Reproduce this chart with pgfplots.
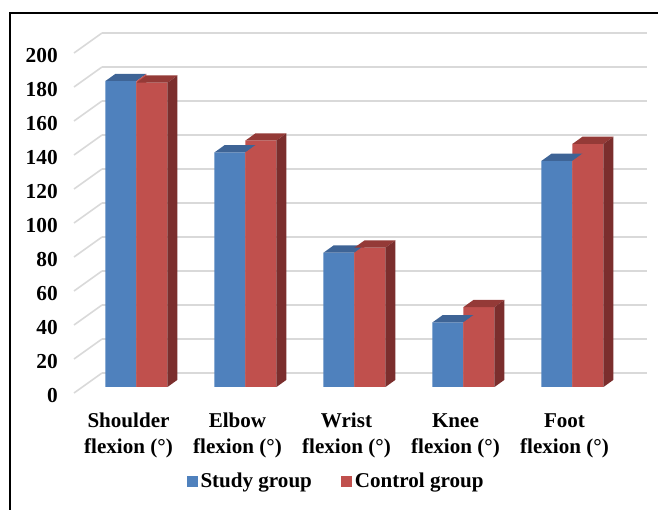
\documentclass[border=0pt]{standalone}
\usepackage{pgfplots}
\pgfplotsset{compat=1.18}
\usepackage{pgfplotstable}
\usepackage{fontspec}
\setmainfont{Liberation Serif}
\definecolor{bfront}{HTML}{4F81BD}
\definecolor{btop}{HTML}{3E6496}
\definecolor{bside}{HTML}{385D8A}
\definecolor{rfront}{HTML}{C0504D}
\definecolor{rtop}{HTML}{943A37}
\definecolor{rside}{HTML}{7B2E2D}
\definecolor{gridc}{HTML}{D9D9D9}
\newdimen\prismh
\newdimen\prismb
\pgfplotsset{
  prism/.style n args={6}{% L, L+dx, R, R+dx, top colour, side colour
    only marks, scatter, forget plot, mark=*, mark size=0pt,
    mark options={draw=none, fill=none},
    point meta=explicit symbolic,
    scatter/@pre marker code/.code={%
      \prismh=1.275pt \multiply\prismh by \pgfplotspointmeta\relax
      \prismb=5.4pt \advance\prismb by -\prismh
      \prismh=-\prismh
      \pgfpathmoveto{\pgfqpoint{#1}{0pt}}%
      \pgfpathlineto{\pgfqpoint{#2}{5.4pt}}%
      \pgfpathlineto{\pgfqpoint{#4}{5.4pt}}%
      \pgfpathlineto{\pgfqpoint{#3}{0pt}}%
      \pgfpathclose
      \pgfsetfillcolor{#5}\pgfusepath{fill}%
      \pgfpathmoveto{\pgfqpoint{#3}{0pt}}%
      \pgfpathlineto{\pgfqpoint{#4}{5.4pt}}%
      \pgfpathlineto{\pgfqpoint{#4}{\prismb}}%
      \pgfpathlineto{\pgfqpoint{#3}{\prismh}}%
      \pgfpathclose
      \pgfsetfillcolor{#6}\pgfusepath{fill}%
    },
    scatter/@post marker code/.code={},
  }
}
\pgfplotstableread{
x v
0 180
1 138
2 79
3 38
4 133
}\study
\pgfplotstableread{
x v
0 179
1 145
2 82
3 47
4 143
}\control
\begin{document}
\begin{tikzpicture}
\path[use as bounding box] (0,0) rectangle (493.5pt,382.5pt);
\draw[black, line width=2.2pt] (7.5pt,0pt) -- (7.5pt,372.75pt) -- (493.5pt,372.75pt);
\begin{axis}[
  at={(61.5pt,92.25pt)}, anchor=south west,
  scale only axis, width=408.75pt, height=255pt,
  xmin=-0.5, xmax=4.5, ymin=0, ymax=200,
  clip=false,
  axis line style={draw=none},
  xtick={0,1,2,3,4},
  xticklabels={{Shoulder\\flexion (°)},{Elbow\\flexion (°)},{Wrist\\flexion (°)},{Knee\\flexion (°)},{Foot\\flexion (°)}},
  ytick={0,20,...,200},
  tick style={draw=none},
  /pgf/number format/assume math mode=true,
  yticklabel style={font=\fontsize{16}{18.75}\selectfont\bfseries, anchor=east, inner sep=0pt, xshift=-18pt, yshift=-6.75pt},
  xticklabel style={font=\fontsize{15.8}{19.5}\selectfont\bfseries, anchor=north, inner sep=0pt, align=center, xshift=-6pt, yshift=-19.5pt},
  legend style={at={(0.467,-0.277)}, anchor=center, draw=none, fill=none,
    legend columns=2, font=\fontsize{15.8}{18.75}\selectfont\bfseries,
    /tikz/every even column/.append style={column sep=20pt}},
  legend image code/.code={\fill[#1] (0pt,-4.125pt) rectangle (8.25pt,4.125pt);},
]
\pgfplotsinvokeforeach{0,20,40,60,80,100,120,140,160,180,200}{
  \draw[gridc, line width=1.2pt] ([xshift=15pt,yshift=10.5pt]axis cs:-0.5,#1) -- ([xshift=15pt,yshift=10.5pt]axis cs:4.5,#1);
  \draw[gridc, line width=1.2pt] ([xshift=-6pt,yshift=-4.5pt]axis cs:-0.5,#1) -- ([xshift=15pt,yshift=10.5pt]axis cs:-0.5,#1);
}
\addplot[prism={-23.25pt}{-15.75pt}{0pt}{7.5pt}{btop}{rfront}] table[x=x,y=v,meta=v] {\study};
\addplot[ybar, bar width=23.25pt, bar shift=-11.625pt, fill=bfront, draw=none] table[x=x,y=v] {\study};
\addplot[prism={0pt}{7.5pt}{23.25pt}{30.75pt}{rtop}{rside}] table[x=x,y=v,meta=v] {\control};
\addplot[ybar, bar width=23.25pt, bar shift=11.625pt, fill=rfront, draw=none] table[x=x,y=v] {\control};
\legend{Study group, Control group}
\end{axis}
\end{tikzpicture}
\end{document}
